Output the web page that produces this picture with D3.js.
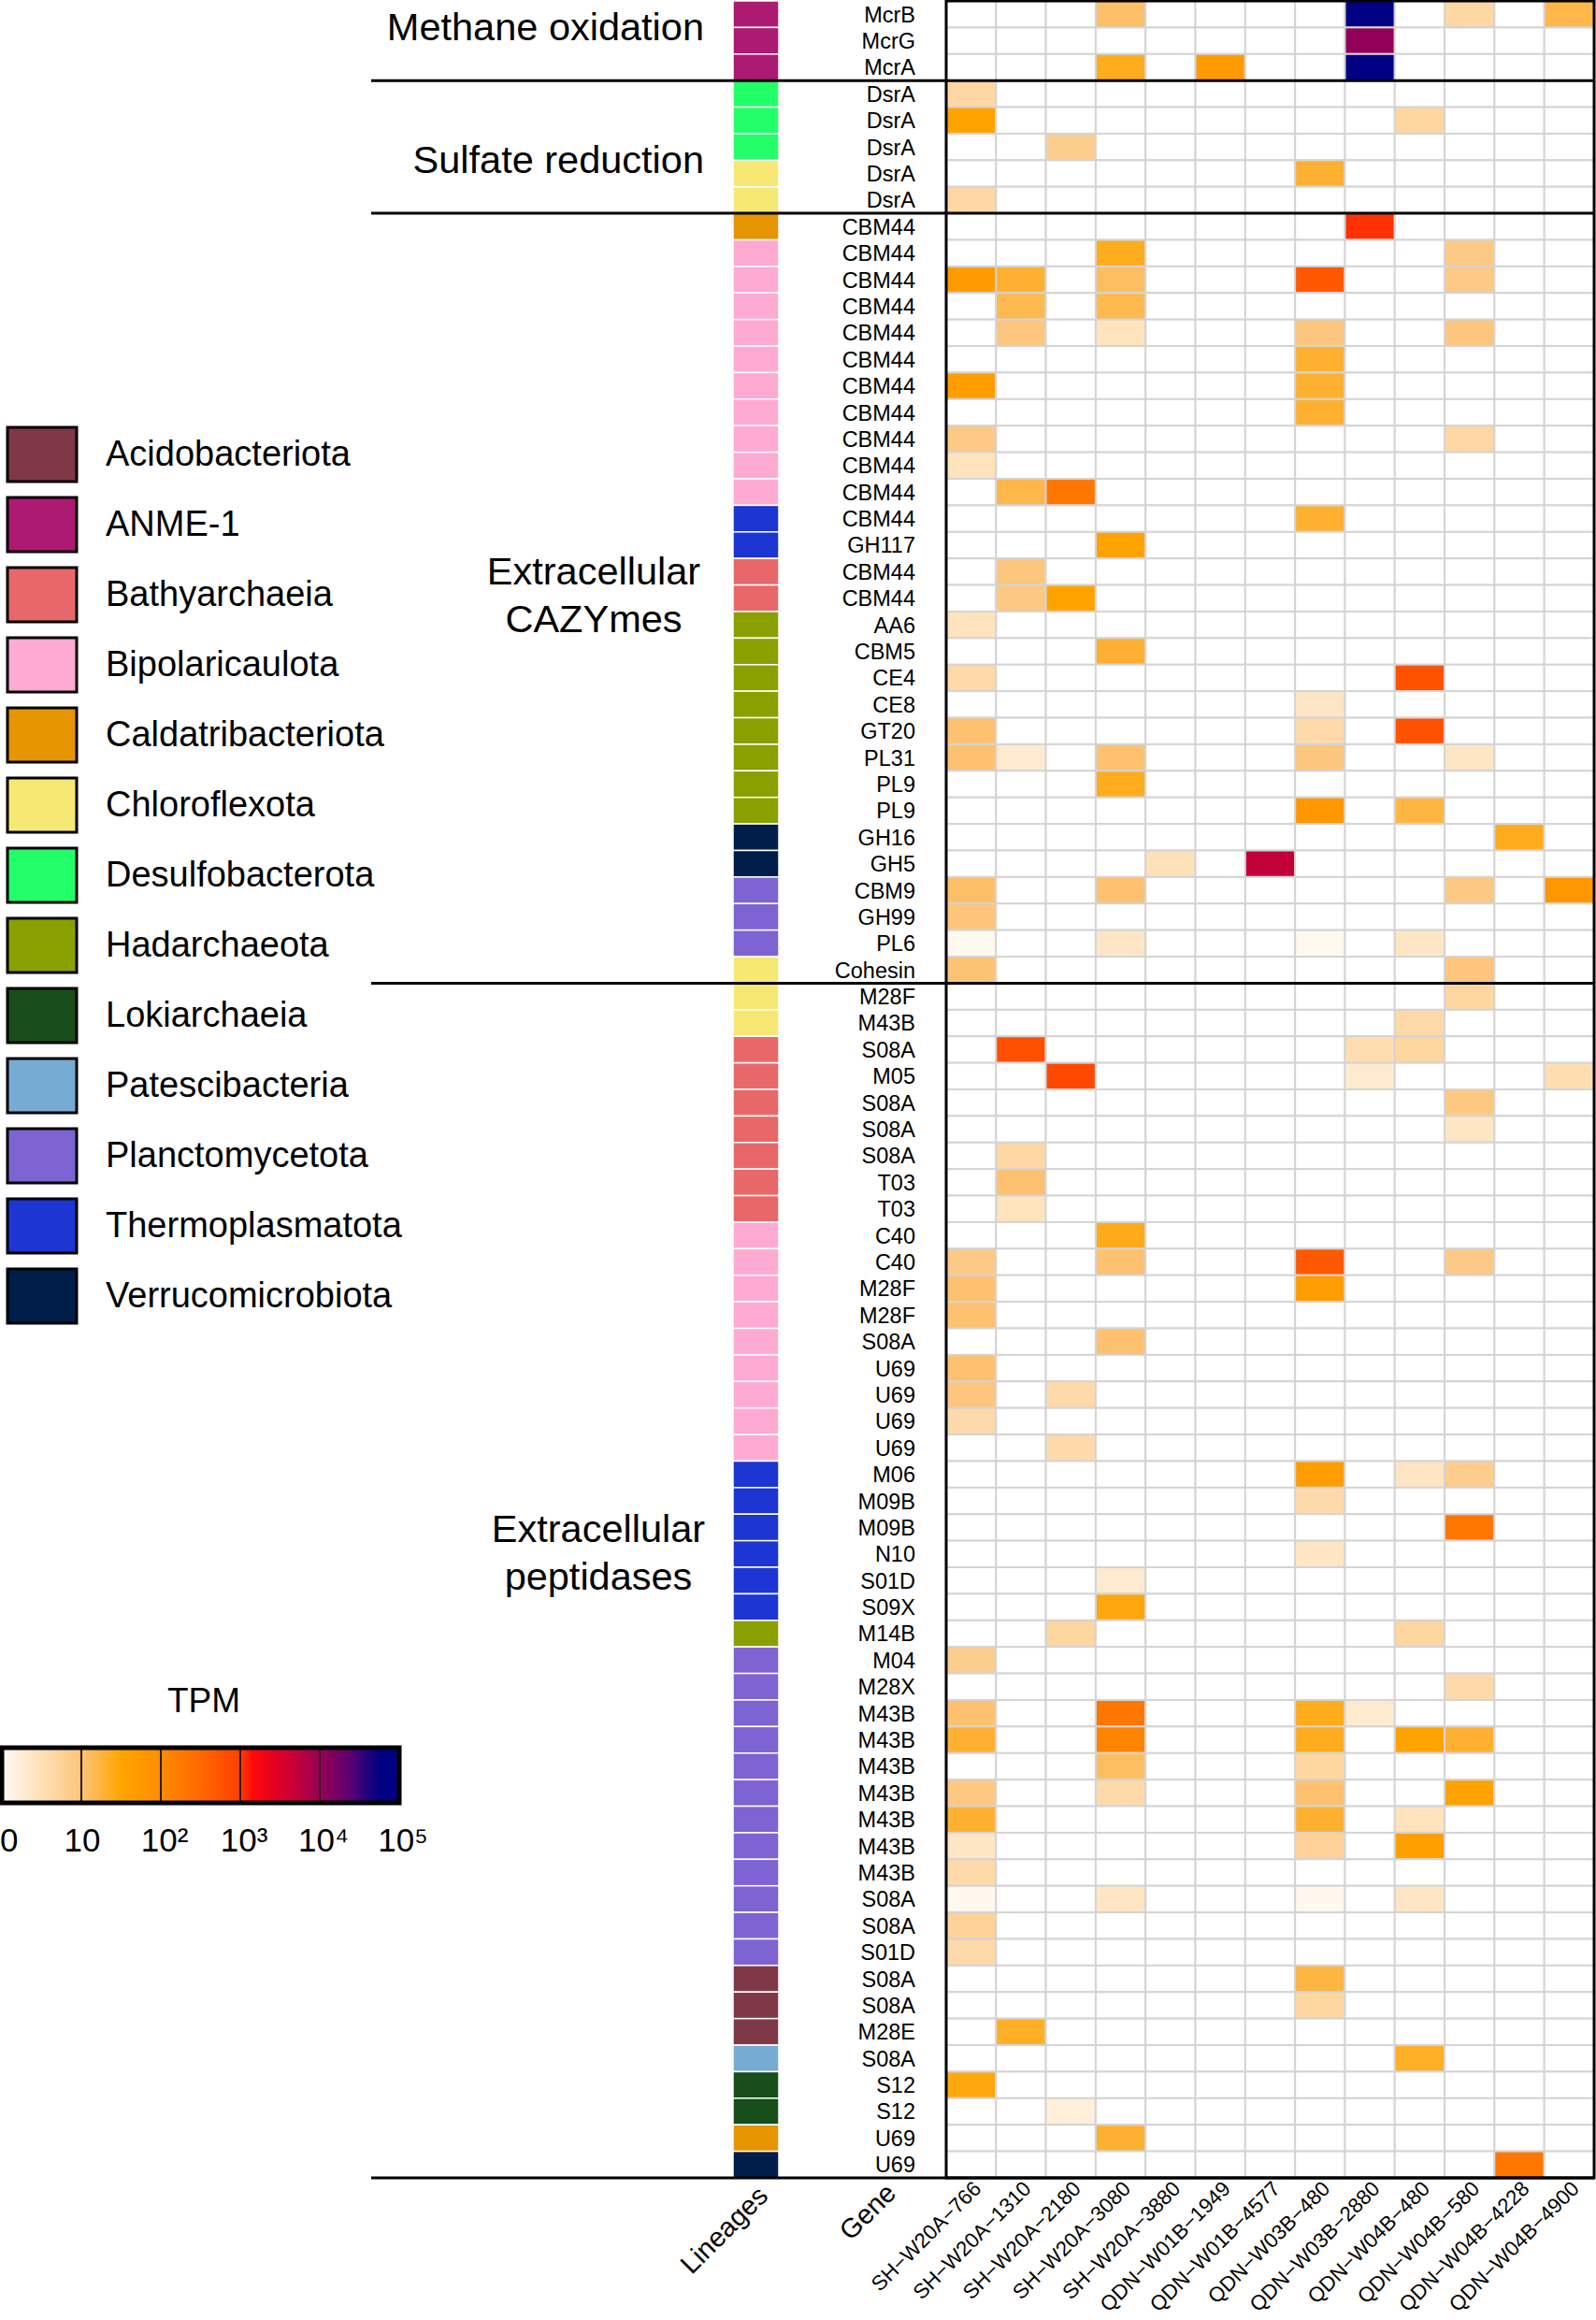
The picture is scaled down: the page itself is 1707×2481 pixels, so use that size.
<!DOCTYPE html>
<html>
<head>
<meta charset="utf-8">
<script src="https://cdn.jsdelivr.net/npm/d3@7"></script>
<style>
  html, body { margin: 0; padding: 0; background: #fff; }
  svg { display: block; font-family: "Liberation Sans", Arial, Helvetica, sans-serif; }
</style>
</head>
<body>
<svg id="chart" width="1707" height="2481"></svg>
<script>
// ---------------- DATA ----------------
const samples = ["SH-W20A-766","SH-W20A-1310","SH-W20A-2180","SH-W20A-3080","SH-W20A-3880",
  "QDN-W01B-1949","QDN-W01B-4577","QDN-W03B-480","QDN-W03B-2880","QDN-W04B-480",
  "QDN-W04B-580","QDN-W04B-4228","QDN-W04B-4900"];

const genes = ["McrB","McrG","McrA",
  "DsrA","DsrA","DsrA","DsrA","DsrA",
  "CBM44","CBM44","CBM44","CBM44","CBM44","CBM44","CBM44","CBM44","CBM44","CBM44","CBM44",
  "CBM44","GH117","CBM44","CBM44","AA6","CBM5","CE4","CE8","GT20","PL31","PL9","PL9",
  "GH16","GH5","CBM9","GH99","PL6","Cohesin",
  "M28F","M43B","S08A","M05","S08A","S08A","S08A","T03","T03",
  "C40","C40","M28F","M28F","S08A","U69","U69","U69","U69",
  "M06","M09B","M09B","N10","S01D","S09X","M14B",
  "M04","M28X","M43B","M43B","M43B","M43B","M43B","M43B","M43B","S08A","S08A","S01D",
  "S08A","S08A","M28E","S08A","S12","S12","U69","U69"];

const rowLineage = ["ANME-1","ANME-1","ANME-1",
  "Desulfobacterota","Desulfobacterota","Desulfobacterota","Chloroflexota","Chloroflexota",
  "Caldatribacteriota",
  "Bipolaricaulota","Bipolaricaulota","Bipolaricaulota","Bipolaricaulota","Bipolaricaulota",
  "Bipolaricaulota","Bipolaricaulota","Bipolaricaulota","Bipolaricaulota","Bipolaricaulota",
  "Thermoplasmatota","Thermoplasmatota","Bathyarchaeia","Bathyarchaeia",
  "Hadarchaeota","Hadarchaeota","Hadarchaeota","Hadarchaeota","Hadarchaeota","Hadarchaeota","Hadarchaeota","Hadarchaeota",
  "Verrucomicrobiota","Verrucomicrobiota","Planctomycetota","Planctomycetota","Planctomycetota","Chloroflexota",
  "Chloroflexota","Chloroflexota",
  "Bathyarchaeia","Bathyarchaeia","Bathyarchaeia","Bathyarchaeia","Bathyarchaeia","Bathyarchaeia","Bathyarchaeia",
  "Bipolaricaulota","Bipolaricaulota","Bipolaricaulota","Bipolaricaulota","Bipolaricaulota",
  "Bipolaricaulota","Bipolaricaulota","Bipolaricaulota","Bipolaricaulota",
  "Thermoplasmatota","Thermoplasmatota","Thermoplasmatota","Thermoplasmatota","Thermoplasmatota","Thermoplasmatota",
  "Hadarchaeota",
  "Planctomycetota","Planctomycetota","Planctomycetota","Planctomycetota","Planctomycetota","Planctomycetota",
  "Planctomycetota","Planctomycetota","Planctomycetota","Planctomycetota","Planctomycetota","Planctomycetota",
  "Acidobacteriota","Acidobacteriota","Acidobacteriota","Patescibacteria",
  "Lokiarchaeia","Lokiarchaeia","Caldatribacteriota","Verrucomicrobiota"];

const lineageNames = ["Acidobacteriota","ANME-1","Bathyarchaeia","Bipolaricaulota","Caldatribacteriota",
  "Chloroflexota","Desulfobacterota","Hadarchaeota","Lokiarchaeia","Patescibacteria",
  "Planctomycetota","Thermoplasmatota","Verrucomicrobiota"];
const lineageColors = ["#7f3848","#ad1a72","#e8686a","#ffaad2","#e69500",
  "#f7e874","#22ff68","#8aa000","#174e1a","#76abd3",
  "#7e64d2","#1d35d3","#001e49"];

// sections: title lines, first row, last row
const sectionTitles = [["Methane oxidation"],["Sulfate reduction"],["Extracellular","CAZYmes"],["Extracellular","peptidases"]];
const sectionStarts = [0, 3, 8, 37];
const sectionEnds   = [2, 7, 36, 81];

// TPM per gene row (rows) x sample (columns); 0 = not detected
const tpm = [
 [0,0,0,12,0,0,0,0,80000,0,4.5,0,16],
 [0,0,0,0,0,0,0,0,11000,0,0,0,0],
 [0,0,0,24,0,50,0,0,80000,0,0,0,0],
 [4.5,0,0,0,0,0,0,0,0,0,0,0,0],
 [35,0,0,0,0,0,0,0,0,4.8,0,0,0],
 [0,0,7,0,0,0,0,0,0,0,0,0,0],
 [0,0,0,0,0,0,0,20,0,0,0,0,0],
 [4.5,0,0,0,0,0,0,0,0,0,0,0,0],
 [0,0,0,0,0,0,0,0,1100,0,0,0,0],
 [0,0,0,24,0,0,0,0,0,0,8,0,0],
 [50,20,0,12.6,0,0,0,500,0,0,8,0,0],
 [0,15,0,15,0,0,0,0,0,0,0,0,0],
 [0,9.3,0,2.8,0,0,0,9.3,0,0,9.3,0,0],
 [0,0,0,0,0,0,0,20,0,0,0,0,0],
 [45,0,0,0,0,0,0,20,0,0,0,0,0],
 [0,0,0,0,0,0,0,20,0,0,0,0,0],
 [8,0,0,0,0,0,0,0,0,0,4.5,0,0],
 [2.8,0,0,0,0,0,0,0,0,0,0,0,0],
 [0,16,200,0,0,0,0,0,0,0,0,0,0],
 [0,0,0,0,0,0,0,20,0,0,0,0,0],
 [0,0,0,35,0,0,0,0,0,0,0,0,0],
 [0,9.3,0,0,0,0,0,0,0,0,0,0,0],
 [0,8.5,35,0,0,0,0,0,0,0,0,0,0],
 [2.8,0,0,0,0,0,0,0,0,0,0,0,0],
 [0,0,0,20,0,0,0,0,0,0,0,0,0],
 [4,0,0,0,0,0,0,0,0,600,0,0,0],
 [0,0,0,0,0,0,0,2.4,0,0,0,0,0],
 [11,0,0,0,0,0,0,4,0,600,0,0,0],
 [11,2,0,11,0,0,0,9.3,0,0,2.4,0,0],
 [0,0,0,24,0,0,0,0,0,0,0,0,0],
 [0,0,0,0,0,0,0,60,0,17,0,0,0],
 [0,0,0,0,0,0,0,0,0,0,0,24,0],
 [0,0,0,0,3,0,5000,0,0,0,0,0,0],
 [12,0,0,11,0,0,0,0,0,0,8.5,0,60],
 [10,0,0,0,0,0,0,0,0,0,0,0,0],
 [1.1,0,0,2.4,0,0,0,1.1,0,2.4,0,0,0],
 [10.5,0,0,0,0,0,0,0,0,0,9.5,0,0],
 [0,0,0,0,0,0,0,0,0,0,4.8,0,0],
 [0,0,0,0,0,0,0,0,0,4.2,0,0,0],
 [0,650,0,0,0,0,0,0,3.5,4.8,0,0,0],
 [0,0,800,0,0,0,0,0,2,0,0,0,3.5],
 [0,0,0,0,0,0,0,0,0,0,8.5,0,0],
 [0,0,0,0,0,0,0,0,0,0,2.4,0,0],
 [0,4.5,0,0,0,0,0,0,0,0,0,0,0],
 [0,11,0,0,0,0,0,0,0,0,0,0,0],
 [0,2.8,0,0,0,0,0,0,0,0,0,0,0],
 [0,0,0,25,0,0,0,0,0,0,0,0,0],
 [8,0,0,11,0,0,0,500,0,0,8,0,0],
 [11,0,0,0,0,0,0,45,0,0,0,0,0],
 [11,0,0,0,0,0,0,0,0,0,0,0,0],
 [0,0,0,11,0,0,0,0,0,0,0,0,0],
 [11,0,0,0,0,0,0,0,0,0,0,0,0],
 [9.5,0,4,0,0,0,0,0,0,0,0,0,0],
 [4,0,0,0,0,0,0,0,0,0,0,0,0],
 [0,0,4,0,0,0,0,0,0,0,0,0,0],
 [0,0,0,0,0,0,0,45,0,2.4,7,0,0],
 [0,0,0,0,0,0,0,4,0,0,0,0,0],
 [0,0,0,0,0,0,0,0,0,0,200,0,0],
 [0,0,0,0,0,0,0,2.4,0,0,0,0,0],
 [0,0,0,2,0,0,0,0,0,0,0,0,0],
 [0,0,0,28,0,0,0,0,0,0,0,0,0],
 [0,0,4.8,0,0,0,0,0,0,4.8,0,0,0],
 [7,0,0,0,0,0,0,0,0,0,0,0,0],
 [0,0,0,0,0,0,0,0,0,0,4,0,0],
 [11,0,0,200,0,0,0,24,2,0,0,0,0],
 [20,0,0,125,0,0,0,24,0,35,20,0,0],
 [0,0,0,12.6,0,0,0,4.8,0,0,0,0,0],
 [8.5,0,0,4,0,0,0,11,0,0,35,0,0],
 [20,0,0,0,0,0,0,20,0,2.8,0,0,0],
 [2.4,0,0,0,0,0,0,5.6,0,40,0,0,0],
 [4,0,0,0,0,0,0,0,0,0,0,0,0],
 [1.1,0,0,2.4,0,0,0,1.1,0,2.4,0,0,0],
 [5.6,0,0,0,0,0,0,0,0,0,0,0,0],
 [4,0,0,0,0,0,0,0,0,0,0,0,0],
 [0,0,0,0,0,0,0,17,0,0,0,0,0],
 [0,0,0,0,0,0,0,4.8,0,0,0,0,0],
 [0,22,0,0,0,0,0,0,0,0,0,0,0],
 [0,0,0,0,0,0,0,0,0,22,0,0,0],
 [28,0,0,0,0,0,0,0,0,0,0,0,0],
 [0,0,1.6,0,0,0,0,0,0,0,0,0,0],
 [0,0,0,20,0,0,0,0,0,0,0,0,0],
 [0,0,0,0,0,0,0,0,0,0,0,200,0]
];

const tickValues = [0, 10, 100, 1000, 10000, 100000];
const tickLabels = ["0", "10", "10\u00B2", "10\u00B3", "10\u2074", "10\u2075"];

// colour ramp (position in log10 units -> colour)
const rampPos = [0, 0.5, 1.0, 1.5, 2.0, 2.5, 3.0, 3.15, 3.5, 4.0, 4.4, 4.75, 5];
const rampCol = ["#fffaf4","#fee0b6","#fdc47a","#ffa500","#ff8c00","#ff6800","#ff4000","#ff0a0a","#dc0028","#9a0054","#560072","#000084","#000080"];

// ---------------- DRAW ----------------
const svg = d3.select("#chart");
svg.append("rect").attr("width",1707).attr("height",2481).attr("fill","#fff");

const rows = d3.range(genes.length);
const hmLeft = 1012, hmRight = 1705, hmTop = 1, hmBottom = 2329;
const x = d3.scaleBand().domain(samples).range([hmLeft, hmRight]);
const y = d3.scaleBand().domain(rows).range([hmTop, hmBottom]);
const logPos = v => v <= 1 ? 0 : Math.log10(v);
const ramp = d3.scaleLinear().domain(rampPos).range(rampCol).interpolate(d3.interpolateRgb).clamp(true);
const cellColor = v => v > 0 ? ramp(logPos(v)) : "#ffffff";
const lineageColor = d3.scaleOrdinal().domain(lineageNames).range(lineageColors);

// heatmap cells
const cells = [];
rows.forEach(r => samples.forEach((s, c) => cells.push({r, s, v: tpm[r][c]})));
svg.append("g").selectAll("rect").data(cells).join("rect")
  .attr("x", d => x(d.s)).attr("y", d => y(d.r))
  .attr("width", x.bandwidth()).attr("height", y.bandwidth())
  .attr("fill", d => cellColor(d.v))
  .attr("stroke", "#d4d4d4").attr("stroke-width", 2);

// heatmap frame
svg.append("rect").attr("x", hmLeft).attr("y", hmTop).attr("width", hmRight-hmLeft).attr("height", hmBottom-hmTop)
  .attr("fill","none").attr("stroke","#000").attr("stroke-width",3);

// lineage colour column
const linX0 = 784, linX1 = 833;
svg.append("g").selectAll("rect").data(rows).join("rect")
  .attr("x", linX0).attr("y", r => y(r)).attr("width", linX1-linX0).attr("height", y.bandwidth())
  .attr("fill", r => lineageColor(rowLineage[r]))
  .attr("stroke", "#fff").attr("stroke-width", 1.5);

// gene labels
svg.append("g").selectAll("text").data(rows).join("text")
  .attr("x", 979).attr("y", r => y(r) + y.bandwidth()/2)
  .attr("dy","0.36em").attr("text-anchor","end")
  .attr("font-size", 23.5).attr("fill","#000")
  .text(r => genes[r]);

// section separators
const lineX0 = 397;
sectionStarts.slice(1).forEach(s => {
  svg.append("line").attr("x1", lineX0).attr("x2", hmRight).attr("y1", y(s)).attr("y2", y(s))
    .attr("stroke","#000").attr("stroke-width",3);
});
svg.append("line").attr("x1", lineX0).attr("x2", hmRight).attr("y1", hmBottom).attr("y2", hmBottom)
  .attr("stroke","#000").attr("stroke-width",3);

// section titles
const titleFont = 41.5;
svg.append("text").attr("x", 753).attr("y", 43).attr("text-anchor","end").attr("font-size", titleFont).text(sectionTitles[0][0]);
svg.append("text").attr("x", 753).attr("y", 185).attr("text-anchor","end").attr("font-size", titleFont).text(sectionTitles[1][0]);
[[2, 635, 625], [3, 640, 1649]].forEach(([i, cx, by]) => {
  sectionTitles[i].forEach((t, k) => {
    svg.append("text").attr("x", cx).attr("y", by + k*51).attr("text-anchor","middle")
      .attr("font-size", titleFont).text(t);
  });
});

// column labels
svg.append("g").selectAll("text").data(samples).join("text")
  .attr("transform", s => `translate(${x(s) + x.bandwidth()/2 + 12},2342) rotate(-45)`)
  .attr("text-anchor","end").attr("font-size", 22.3)
  .text(s => s.replace(/-/g, "\u2212"));
svg.append("text").attr("transform","translate(823,2350) rotate(-45)").attr("text-anchor","end")
  .attr("font-size", 29).text("Lineages");
svg.append("text").attr("transform","translate(960,2347) rotate(-45)").attr("text-anchor","end")
  .attr("font-size", 29).text("Gene");

// lineage legend
const lg = svg.append("g");
const legY = d3.scaleBand().domain(lineageNames).range([455, 455 + 75*lineageNames.length]);
lg.selectAll("rect").data(lineageNames).join("rect")
  .attr("x", 8).attr("y", d => legY(d) + 2).attr("width", 74).attr("height", 58)
  .attr("fill", d => lineageColor(d)).attr("stroke","#000").attr("stroke-width",3);
lg.selectAll("text").data(lineageNames).join("text")
  .attr("x", 113).attr("y", d => legY(d) + 29).attr("dy","0.36em")
  .attr("font-size", 38).text(d => d);

// TPM colour bar
const cb = svg.append("g");
const cbX = d3.scaleLinear().domain([0, 5]).range([2, 427]);
const grad = svg.append("defs").append("linearGradient").attr("id","tpmgrad")
  .attr("gradientUnits","userSpaceOnUse").attr("x1", cbX(0)).attr("x2", cbX(5)).attr("y1",0).attr("y2",0);
grad.selectAll("stop").data(rampPos).join("stop")
  .attr("offset", (p) => p/5).attr("stop-color", (p, i) => rampCol[i]);
cb.append("text").attr("x", 218).attr("y", 1831).attr("text-anchor","middle").attr("font-size", 37).text("TPM");
cb.append("rect").attr("x", cbX(0)).attr("y", 1869).attr("width", cbX(5)-cbX(0)).attr("height", 59)
  .attr("fill","url(#tpmgrad)");
cb.selectAll("line.div").data(tickValues.slice(1, -1)).join("line").attr("class","div")
  .attr("x1", v => cbX(logPos(v))).attr("x2", v => cbX(logPos(v)))
  .attr("y1", 1869).attr("y2", 1928).attr("stroke","#2b1d1d").attr("stroke-width",2);
cb.append("rect").attr("x", cbX(0)).attr("y", 1869).attr("width", cbX(5)-cbX(0)).attr("height", 59)
  .attr("fill","none").attr("stroke","#000").attr("stroke-width",5);
cb.selectAll("text.tick").data(tickValues).join("text").attr("class","tick")
  .attr("x", (v, i) => i === 0 ? 0 : cbX(logPos(v)) + (i > 1 ? 4 : 1))
  .attr("y", 1980).attr("text-anchor", (v, i) => i === 0 ? "start" : "middle")
  .attr("font-size", 35).text((v, i) => tickLabels[i]);
</script>
</body>
</html>
